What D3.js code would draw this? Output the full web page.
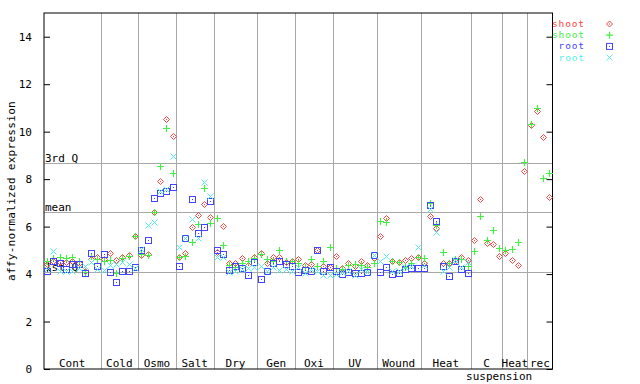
<!doctype html>
<meta charset="utf-8">
<style>
body { margin: 0; background: #fff; }
text { font-family: "DejaVu Sans Mono", monospace; font-size: 11px; fill: #000; }
</style>
<body>
<div id="chart"></div>
<script src="https://d3js.org/d3.v7.min.js"></script>
<script>
// conditions and how many samples each one holds
var groups = ["Cont", "Cold", "Osmo", "Salt", "Dry", "Gen", "Oxi", "UV", "Wound", "Heat", "C", "Heat", "rec"];
var groupSizes = [9, 6, 6, 6, 7, 6, 6, 7, 7, 8, 5, 4, 4];

// shoot samples (red diamonds / green crosses) cover every condition
var shootRed = [4.42, 4.57, 4.49, 4.50, 4.57, 4.45, 4.11, 4.65, 4.70,
  4.65, 4.89, 4.60, 4.70, 4.80, 5.61,
  4.80, 4.85, 6.60, 7.93, 10.54, 9.83,
  4.70, 4.88, 6.00, 6.50, 6.95, 6.40,
  4.95, 6.03, 4.46, 4.46, 4.67, 4.40, 4.71,
  4.88, 4.46, 4.71, 4.71, 4.50, 4.55,
  4.63, 4.39, 4.42, 5.00, 4.32, 4.29,
  4.77, 4.25, 4.46, 4.35, 4.56, 4.40, 4.66,
  5.61, 6.36, 4.56, 4.50, 4.60, 4.67, 4.74,
  4.46, 6.43, 5.94, 4.46, 4.46, 4.53, 4.74, 4.60,
  5.44, 7.16, 5.33, 5.26, 4.77,
  4.88, 4.60, 4.39, 8.33,
  10.27, 10.86, 9.76, 7.24];
var shootGreen = [4.56, 4.67, 4.70, 4.67, 4.70, 4.56, 4.10, 4.75, 4.65,
  4.55, 4.60, 4.05, 4.67, 4.75, 5.61,
  4.85, 4.80, 6.60, 8.57, 10.16, 8.26,
  4.70, 4.78, 5.35, 6.10, 7.62, 6.15,
  6.36, 5.23, 4.40, 4.30, 4.45, 4.53, 4.67,
  4.85, 4.63, 4.55, 5.00, 4.56, 4.53,
  4.45, 4.30, 4.65, 4.32, 4.55, 5.12,
  4.25, 4.23, 4.40, 4.42, 4.40, 4.30, 4.46,
  6.22, 6.19, 4.53, 4.50, 4.30, 4.46, 4.71,
  4.67, 6.99, 6.05, 4.95, 4.45, 4.65, 4.63, 4.35,
  4.98, 6.46, 5.44, 5.84, 5.09,
  5.02, 5.05, 5.37, 8.71,
  10.32, 11.00, 8.05, 8.26];
// root samples stop after the first Heat series
var rootBlue = [4.15, 4.57, 4.46, 4.21, 4.44, 4.43, 4.04, 4.90, 4.35,
  4.83, 4.08, 3.66, 4.15, 4.15, 4.28,
  5.00, 5.45, 7.20, 7.43, 7.52, 7.66,
  4.36, 5.51, 7.16, 5.72, 5.99, 7.07,
  5.02, 4.84, 4.18, 4.35, 4.25, 3.97, 4.50,
  3.78, 4.11, 4.45, 4.55, 4.42, 4.35,
  4.10, 4.18, 4.11, 5.03, 4.11, 4.29,
  4.12, 4.00, 4.07, 4.05, 4.05, 4.10, 4.81,
  4.08, 4.29, 4.00, 4.06, 4.20, 4.25, 4.27,
  4.27, 6.92, 6.22, 4.35, 3.92, 4.53, 4.21, 4.04];
var rootCyan = [4.20, 4.99, 4.15, 4.11, 4.11, 4.25, 4.32, 4.50, 4.20,
  4.17, 4.40, 4.42, 4.49, 4.44, 4.27,
  5.05, 6.05, 6.20, 7.48, 7.58, 8.97,
  5.12, 5.51, 6.33, 5.51, 7.90, 7.27,
  4.74, 4.70, 4.10, 4.11, 4.20, 4.25, 4.30,
  4.32, 4.11, 4.30, 4.18, 4.20, 4.15,
  4.30, 4.04, 4.20, 4.15, 3.97, 3.97,
  4.00, 4.10, 4.15, 3.94, 4.20, 4.10, 4.81,
  4.56, 4.77, 4.15, 4.15, 4.30, 4.35, 5.16,
  4.40, 6.74, 5.79, 4.15, 4.30, 4.60, 4.30, 4.50];

var refLines = [["3rd Q", 8.69], ["mean", 6.62], ["1st Q", 4.09]];
var yTicks = [0, 2, 4, 6, 8, 10, 12, 14];

var series = [
  {name: "shoot", color: "#ff4444", shape: "diamond", values: shootRed},
  {name: "shoot", color: "#44ee44", shape: "plus", values: shootGreen},
  {name: "root", color: "#4444ff", shape: "square", values: rootBlue},
  {name: "root", color: "#55eeee", shape: "cross", values: rootCyan}
];

var width = 640, height = 384;
var plotL = 44, plotR = 552.5, plotT = 13, plotB = 369;
var nSamples = d3.sum(groupSizes);

var svg = d3.select("#chart").append("svg").attr("width", width).attr("height", height);

var x = d3.scaleLinear().domain([0, nSamples]).range([plotL, plotR]);
var y = d3.scaleLinear().domain([0, 15]).range([plotB, plotT]);

// group separators
var bounds = d3.cumsum(groupSizes);
svg.append("g").selectAll("line").data(bounds.slice(0, -1)).enter().append("line")
  .attr("x1", function(d) { return Math.round(x(d)) + 0.5; })
  .attr("x2", function(d) { return Math.round(x(d)) + 0.5; })
  .attr("y1", plotT).attr("y2", plotB)
  .attr("stroke", "#a8a8a8");

// quartile / mean lines
svg.append("g").selectAll("line").data(refLines).enter().append("line")
  .attr("x1", plotL).attr("x2", plotR)
  .attr("y1", function(d) { return Math.round(y(d[1])) + 0.5; })
  .attr("y2", function(d) { return Math.round(y(d[1])) + 0.5; })
  .attr("stroke", "#a8a8a8");
svg.append("g").selectAll("text").data(refLines).enter().append("text")
  .attr("x", plotL + 1)
  .attr("y", function(d) { return Math.round(y(d[1])) - 1; })
  .text(function(d) { return d[0]; });

// group labels
svg.append("g").selectAll("text").data(groups).enter().append("text")
  .attr("x", function(d, i) { return x((i ? bounds[i - 1] : 0) + groupSizes[i] / 2); })
  .attr("y", 367)
  .attr("text-anchor", "middle")
  .text(function(d) { return d; });
svg.append("text").attr("x", x(bounds[10] - 0.5)).attr("y", 380)
  .attr("text-anchor", "middle").text("suspension");

// axes
var yAxis = d3.axisLeft(y).tickValues(yTicks).tickSizeInner(-6).tickSizeOuter(0).tickPadding(12);
var gy = svg.append("g").attr("transform", "translate(" + plotL + ",0)").call(yAxis);
gy.select(".domain").remove();
gy.selectAll("line").attr("stroke", "#000");
gy.selectAll("text").style("font-family", "DejaVu Sans Mono").style("font-size", "11px");
var gr = svg.append("g").attr("transform", "translate(" + plotR + ",0)")
  .call(d3.axisRight(y).tickValues(yTicks).tickSizeInner(-6).tickSizeOuter(0).tickFormat(""));
gr.select(".domain").remove();
gr.selectAll("line").attr("stroke", "#000");

svg.append("rect").attr("x", plotL).attr("y", plotT)
  .attr("width", plotR - plotL).attr("height", plotB - plotT)
  .attr("fill", "none").attr("stroke", "#000");

svg.append("text")
  .attr("transform", "translate(15," + ((plotT + plotB) / 2) + ") rotate(-90)")
  .attr("text-anchor", "middle")
  .style("letter-spacing", "0.3px")
  .text("affy-normalized expression");

function drawMarker(g, shape, color) {
  if (shape === "diamond") {
    g.append("path").attr("d", "M0,-3L3,0L0,3L-3,0Z").attr("fill", "none").attr("stroke", color);
    g.append("rect").attr("x", -0.5).attr("y", -0.5).attr("width", 1).attr("height", 1).attr("fill", color);
  } else if (shape === "plus") {
    g.append("path").attr("d", "M-3.5,0H3.5M0,-3.5V3.5").attr("stroke", color).attr("stroke-width", 1.2);
  } else if (shape === "square") {
    g.append("rect").attr("x", -3).attr("y", -3).attr("width", 6).attr("height", 6)
      .attr("fill", "none").attr("stroke", color);
    g.append("rect").attr("x", -0.5).attr("y", -0.5).attr("width", 1).attr("height", 1).attr("fill", color);
  } else {
    g.append("path").attr("d", "M-3,-3L3,3M-3,3L3,-3").attr("stroke", color);
  }
}

series.forEach(function(s) {
  var pts = svg.append("g").selectAll("g").data(s.values).enter().append("g")
    .attr("transform", function(d, i) {
      return "translate(" + (Math.round(x(i + 0.5)) + 0.5) + "," + (Math.round(y(d)) + 0.5) + ")";
    });
  pts.each(function() { drawMarker(d3.select(this), s.shape, s.color); });
});

// legend
var leg = svg.append("g").selectAll("g").data(series).enter().append("g")
  .attr("transform", function(d, i) { return "translate(0," + (23.5 + i * 11.2) + ")"; });
leg.append("text").attr("x", 585).attr("y", 3.5).attr("text-anchor", "end")
  .style("font-size", "9.5px").style("letter-spacing", "0.9px")
  .style("fill", function(d) { return d.color; })
  .text(function(d) { return d.name; });
leg.each(function(d) {
  var g = d3.select(this).append("g").attr("transform", "translate(609.5,0.5)");
  drawMarker(g, d.shape, d.color);
});
</script>
</body>
